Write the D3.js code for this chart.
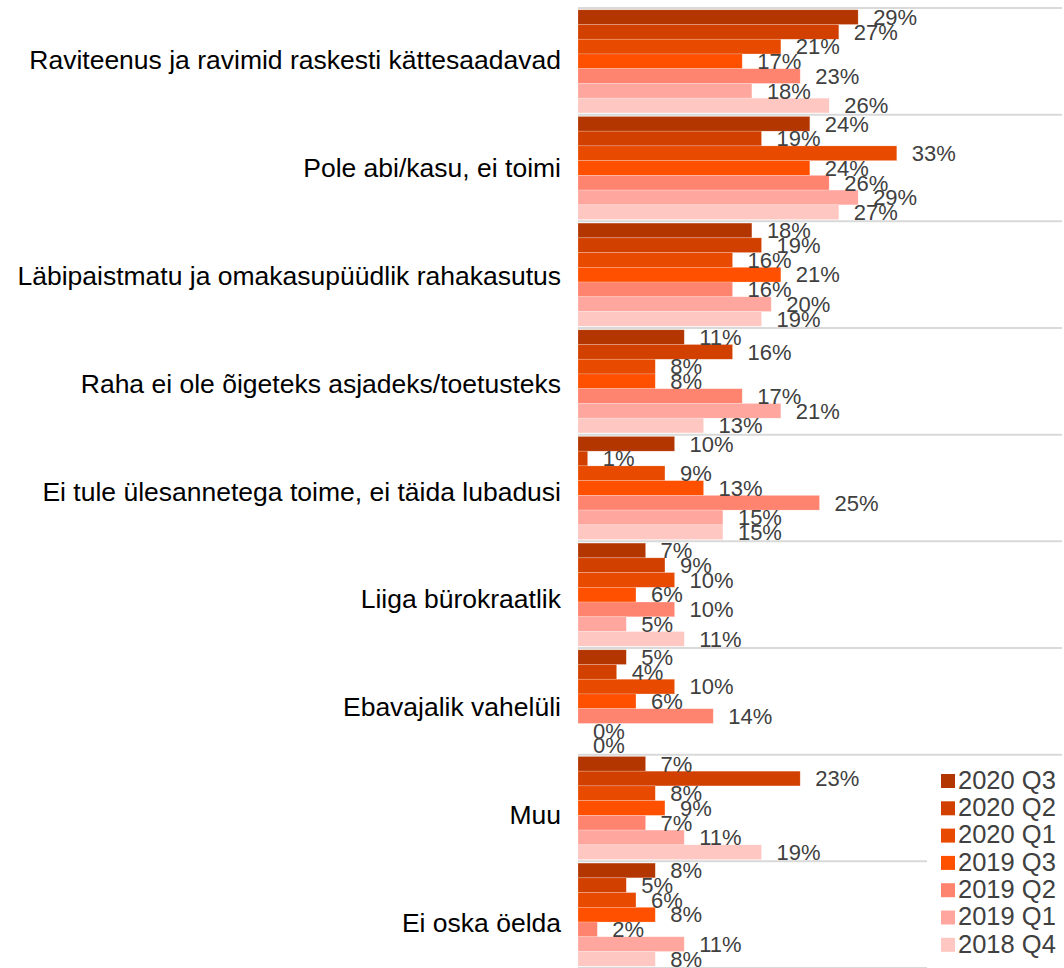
<!DOCTYPE html>
<html>
<head>
<meta charset="utf-8">
<script src="https://cdnjs.cloudflare.com/ajax/libs/d3/7.8.5/d3.min.js"></script>
<style>
  body { margin: 0; background: #fff; }
  svg { display: block; font-family: "Liberation Sans", Arial, sans-serif; }
</style>
</head>
<body>
<svg id="chart" width="1064" height="968"></svg>
<script>
const categories = [
  "Raviteenus ja ravimid raskesti kättesaadavad",
  "Pole abi/kasu, ei toimi",
  "Läbipaistmatu ja omakasupüüdlik rahakasutus",
  "Raha ei ole õigeteks asjadeks/toetusteks",
  "Ei tule ülesannetega toime, ei täida lubadusi",
  "Liiga bürokraatlik",
  "Ebavajalik vahelüli",
  "Muu",
  "Ei oska öelda"
];
const seriesNames = ["2020 Q3", "2020 Q2", "2020 Q1", "2019 Q3", "2019 Q2", "2019 Q1", "2018 Q4"];
const seriesColors = ["#b33600", "#d24000", "#e84a00", "#ff5000", "#ff8470", "#ffa79e", "#ffc7c1"];

// values in %, one array per series, in category order
const q3_2020 = [29, 24, 18, 11, 10, 7, 5, 7, 8];
const q2_2020 = [27, 19, 19, 16, 1, 9, 4, 23, 5];
const q1_2020 = [21, 33, 16, 8, 9, 10, 10, 8, 6];
const q3_2019 = [17, 24, 21, 8, 13, 6, 6, 9, 8];
const q2_2019 = [23, 26, 16, 17, 25, 10, 14, 7, 2];
const q1_2019 = [18, 29, 20, 21, 15, 5, 0, 11, 11];
const q4_2018 = [26, 27, 19, 13, 15, 11, 0, 19, 8];
const seriesValues = [q3_2020, q2_2020, q1_2020, q3_2019, q2_2019, q1_2019, q4_2018];

const svg = d3.select("#chart");
const plotLeft = 578, plotRight = 1061, plotTop = 8, plotBottom = 968;

var x = d3.scaleLinear().domain([0, 50]).range([plotLeft, plotRight]);
var y = d3.scaleBand().domain(categories).range([plotTop, plotBottom]);
// category labels sit on a slightly longer step than the bars (as in the source)
var yLabel = d3.scaleBand().domain(categories).range([plotTop, plotTop + 9 * 107.9]);
var ySub = d3.scaleBand().domain(seriesNames).range([0, y.bandwidth()]).paddingOuter(0.12);
var color = d3.scaleOrdinal().domain(seriesNames).range(seriesColors);

var rows = categories.map((c, i) => ({
  category: c,
  values: seriesNames.map((s, j) => ({ series: s, value: seriesValues[j][i] }))
}));

// category separators
svg.append("g").attr("class", "grid")
  .selectAll("line")
  .data(categories.concat(["end"]))
  .enter().append("line")
  .attr("x1", plotLeft).attr("x2", plotRight + 1)
  .attr("y1", (d, i) => plotTop + i * y.step())
  .attr("y2", (d, i) => plotTop + i * y.step())
  .attr("stroke", "#d9d9d9")
  .attr("stroke-width", 2);

var groups = svg.append("g").attr("class", "bars")
  .selectAll("g")
  .data(rows)
  .enter().append("g")
  .attr("transform", (d) => "translate(0," + y(d.category) + ")");

groups.selectAll("rect")
  .data((d) => d.values)
  .enter().append("rect")
  .attr("x", x(0))
  .attr("y", (d) => ySub(d.series))
  .attr("width", (d) => x(d.value) - x(0))
  .attr("height", ySub.bandwidth())
  .attr("fill", (d) => color(d.series))
  .attr("stroke", "#ffffff")
  .attr("stroke-opacity", 0.35)
  .attr("stroke-width", 0.6);

groups.selectAll("text.value")
  .data((d) => d.values)
  .enter().append("text")
  .attr("class", "value")
  .attr("x", (d) => x(d.value) + 15)
  .attr("y", (d) => ySub(d.series) + ySub.bandwidth() / 2 + 2)
  .attr("dominant-baseline", "middle")
  .attr("font-size", 22)
  .attr("fill", "#404040")
  .text((d) => d.value + "%");

// category labels
svg.append("g").attr("class", "cats")
  .selectAll("text")
  .data(categories)
  .enter().append("text")
  .attr("x", 561)
  .attr("y", (d) => yLabel(d) + yLabel.bandwidth() / 2)
  .attr("text-anchor", "end")
  .attr("dominant-baseline", "middle")
  .attr("font-size", 26.5)
  .attr("fill", "#000")
  .text((d) => d);

// legend
var legend = svg.append("g").attr("class", "legend");
legend.append("rect")
  .attr("x", 927).attr("y", 762).attr("width", 137).attr("height", 206)
  .attr("fill", "#fff");
var item = legend.selectAll("g.item")
  .data(seriesNames)
  .enter().append("g").attr("class", "item")
  .attr("transform", (d, i) => "translate(941," + (781 + i * 27.3) + ")");
item.append("rect")
  .attr("x", 0).attr("y", -7).attr("width", 14).attr("height", 14)
  .attr("fill", (d) => color(d));
item.append("text")
  .attr("x", 17).attr("y", 1)
  .attr("dominant-baseline", "middle")
  .attr("font-size", 25.5)
  .attr("fill", "#404040")
  .text((d) => d);
</script>
</body>
</html>
